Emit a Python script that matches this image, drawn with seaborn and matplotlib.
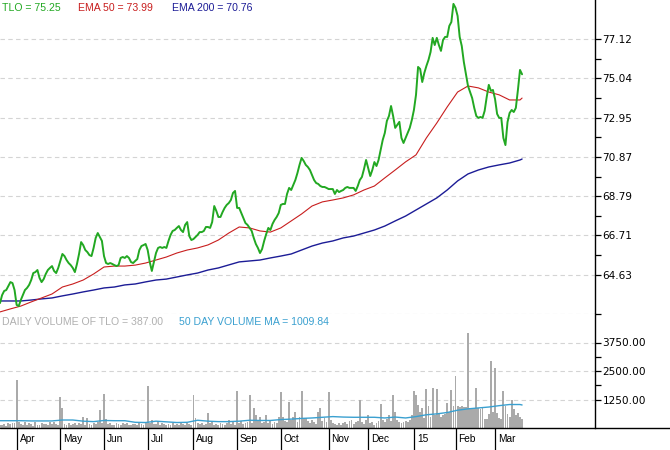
import numpy as np
import pandas as pd
import matplotlib
matplotlib.use("Agg")
import matplotlib.pyplot as plt
import matplotlib.transforms as mtransforms
from matplotlib.lines import Line2D
import seaborn as sns

# ---------------- data ----------------
holidays = ["2014-04-18", "2014-05-26", "2014-07-04", "2014-09-01", "2014-11-27",
            "2014-12-25", "2015-01-01", "2015-01-19", "2015-02-16"]
dates = pd.bdate_range("2014-03-20", periods=252, freq="C", holidays=holidays)

price = [
    63.13, 63.55, 63.77, 63.82, 64.03, 64.24, 64.19, 63.82, 63.03, 62.97,
    63.29, 63.55, 63.82, 63.93, 64.09, 64.35, 64.72, 64.77, 64.88, 64.46,
    64.24, 64.40, 64.67, 64.88, 64.99, 65.09, 64.83, 64.72, 64.99, 65.36,
    65.73, 65.62, 65.41, 65.25, 65.14, 64.99, 64.77, 65.20, 65.73, 66.36,
    66.20, 65.94, 65.83, 65.67, 65.62, 66.05, 66.58, 66.84, 66.63, 66.42,
    65.62, 65.25, 65.20, 65.25, 65.20, 65.14, 65.09, 65.14, 65.52, 65.57,
    65.52, 65.62, 65.52, 65.30, 65.25, 65.36, 65.46, 65.94, 66.15, 66.20,
    66.26, 65.94, 65.30, 64.83, 65.30, 65.78, 66.05, 66.10, 66.05, 66.10,
    66.05, 66.42, 66.74, 66.95, 67.00, 67.11, 67.21, 67.00, 66.89, 67.27,
    67.42, 66.68, 66.47, 66.52, 66.63, 66.74, 66.89, 66.89, 66.95, 67.16,
    67.16, 67.11, 67.42, 68.27, 68.01, 67.69, 67.69, 67.95, 68.17, 68.33,
    68.43, 68.59, 68.96, 69.07, 68.17, 68.17, 67.90, 67.64, 67.37, 67.27,
    67.11, 66.95, 66.58, 66.26, 66.05, 65.78, 65.99, 66.42, 66.79, 67.11,
    67.00, 67.32, 67.53, 67.69, 67.90, 68.33, 68.38, 68.38, 68.91, 69.23,
    69.12, 69.39, 69.65, 70.02, 70.45, 70.82, 70.66, 70.45, 70.34, 70.18,
    69.92, 69.65, 69.49, 69.44, 69.33, 69.28, 69.28, 69.23, 69.17, 69.17,
    69.17, 68.91, 69.12, 69.01, 69.07, 69.12, 69.23, 69.28, 69.23, 69.23,
    69.23, 69.07, 69.33, 69.65, 69.81, 70.23, 70.71, 70.29, 69.86, 70.18,
    70.60, 70.39, 70.71, 71.24, 71.77, 72.14, 72.78, 73.04, 73.57, 73.04,
    72.41, 72.57, 72.73, 71.88, 71.61, 71.88, 72.14, 72.41, 72.83, 73.36,
    74.16, 75.64, 75.53, 74.84, 75.32, 75.69, 76.01, 76.43, 77.18, 76.80,
    77.18, 76.80, 76.49, 77.07, 77.23, 77.23, 77.81, 78.02, 78.98, 78.77,
    78.34, 77.23, 76.75, 75.90, 75.27, 74.63, 74.31, 73.99, 73.47, 73.04,
    72.94, 72.99, 72.94, 73.31, 74.05, 74.69, 74.37, 74.42, 73.94, 73.15,
    72.94, 72.94, 71.88, 71.50, 72.72, 73.20, 73.36, 73.25, 73.47, 74.42,
    75.48, 75.25,
]

volume = [
    150, 120, 180, 90, 200, 160, 210, 240, 2090, 260,
    180, 140, 250, 120, 200, 170, 90, 260, 150, 130,
    220, 180, 160, 110, 250, 170, 260, 190, 140, 1350,
    870, 180, 150, 240, 120, 160, 200, 130, 210, 170,
    480, 150, 435, 190, 140, 220, 160, 250, 780, 200,
    1480, 380, 170, 210, 150, 130, 240, 180, 120, 200,
    160, 230, 150, 110, 190, 170, 140, 260, 180, 120,
    210, 1830, 230, 350, 180, 160, 300, 140, 200, 170,
    120, 190, 150, 220, 130, 170, 110, 200, 160, 140,
    210, 180, 150, 1440, 430, 200, 160, 230, 140, 180,
    650, 210, 270, 150, 190, 130, 220, 170, 140, 200,
    350, 180, 260, 150, 1610, 240, 300, 180, 210, 260,
    1440, 200, 870, 565, 300, 480, 210, 260, 565, 240,
    310, 180, 270, 200, 480, 1570, 480, 300, 250, 1130,
    330, 480, 700, 260, 480, 1610, 400, 450, 300, 230,
    350, 270, 180, 700, 870, 300, 440, 260, 1570, 350,
    220, 180, 150, 240, 130, 200, 260, 170, 300, 350,
    180, 250, 300, 1220, 260, 180, 330, 565, 200, 260,
    150, 240, 300, 1040, 350, 250, 400, 565, 300, 1440,
    700, 350, 280, 220, 260, 300, 250, 330, 565, 1610,
    1440, 1000, 700, 870, 450, 1700, 960, 480, 1740, 560,
    1700, 650, 480, 560, 600, 1090, 700, 1650, 960, 2300,
    950, 920, 960, 940, 900, 4180, 870, 850, 870, 1740,
    870, 850, 880, 400, 380, 600, 2960, 720, 2650, 650,
    420, 400, 1610, 960, 600, 500, 1220, 830, 565, 650,
    480, 387,
]

# moving averages, sampled every 5 trading days plus the last day
avg_days = list(range(0, 251, 5)) + [251]
ema50 = [62.66, 62.82, 62.97, 63.19, 63.40, 63.61, 63.98, 64.14, 64.35, 64.67,
         65.04, 65.09, 65.09, 65.14, 65.25, 65.41, 65.57, 65.78, 65.94, 66.05,
         66.21, 66.47, 66.84, 67.16, 67.11, 66.95, 66.89, 67.11, 67.48, 67.85,
         68.27, 68.49, 68.59, 68.70, 68.86, 69.12, 69.33, 69.76, 70.18, 70.61,
         70.98, 71.88, 72.67, 73.52, 74.31, 74.63, 74.53, 74.31, 74.16, 73.89,
         73.89, 73.99]
ema200 = [63.24, 63.24, 63.24, 63.29, 63.35, 63.40, 63.51, 63.61, 63.72, 63.82,
          63.93, 63.98, 64.09, 64.14, 64.25, 64.35, 64.40, 64.51, 64.62, 64.72,
          64.88, 64.99, 65.15, 65.31, 65.36, 65.41, 65.52, 65.62, 65.73, 65.94,
          66.15, 66.31, 66.42, 66.58, 66.68, 66.84, 67.00, 67.21, 67.48, 67.74,
          68.06, 68.38, 68.70, 69.12, 69.60, 69.97, 70.18, 70.34, 70.45, 70.55,
          70.71, 70.76]
vol_ma50 = [320, 320, 320, 310, 310, 310, 350, 350, 300, 280,
            330, 320, 320, 250, 240, 300, 270, 240, 250, 340,
            300, 280, 280, 300, 340, 330, 330, 370, 390, 420,
            440, 470, 500, 480, 470, 470, 470, 440, 480, 440,
            500, 580, 620, 680, 780, 840, 880, 920, 980, 1030,
            1030, 1009.84]

price_ticks = [62.55, 64.63, 66.71, 68.79, 70.87, 72.95, 75.04, 77.12]
price_tick_labels = ["", "64.63", "66.71", "68.79", "70.87", "72.95", "75.04", "77.12"]
vol_ticks = [1250, 2500, 3750]
vol_tick_labels = ["1250.00", "2500.00", "3750.00"]

# ---------------- style ----------------
sns.set_theme(style="white")
plt.rcParams["font.family"] = ["Liberation Sans", "DejaVu Sans"]

GREEN = "#22a822"
RED = "#c81e1e"
NAVY = "#1c1c96"
GRAY = "#aaaaaa"
CYAN = "#3aa0d0"
GRID = "#d4d4d4"

W, H = 670, 450
fig = plt.figure(figsize=(W / 100, H / 100), dpi=100)
fig.patch.set_facecolor("white")

px_right = 595
y_split = 314
y_base = 428
ax_p = fig.add_axes([0, 1 - y_split / H, px_right / W, y_split / H])
ax_v = fig.add_axes([0, 1 - y_base / H, px_right / W, (y_base - y_split) / H], sharex=ax_p)

idx = np.arange(len(price))

# ---- price panel ----
sns.lineplot(x=avg_days, y=ema200, color=NAVY, lw=1.0, ax=ax_p)
sns.lineplot(x=avg_days, y=ema50, color=RED, lw=0.8, ax=ax_p)
sns.lineplot(x=idx, y=price, color=GREEN, lw=1.4, ax=ax_p)

ax_p.set_ylim(62.55, 79.186)
ax_p.set_xlim(0, px_right / 2.08)

# ---- volume panel ----
sns.barplot(x=idx, y=volume, native_scale=True, color=GRAY, saturation=1,
            width=0.9, errorbar=None, linewidth=0, ax=ax_v)
sns.lineplot(x=avg_days, y=vol_ma50, color=CYAN, lw=1.0, ax=ax_v)
ax_v.set_ylim(0, 5000)
ax_v.set_xlim(0, px_right / 2.08)

for ax in (ax_p, ax_v):
    ax.set_facecolor("white")
    ax.set_xlabel("")
    ax.set_ylabel("")
    for s in ("top", "left", "bottom"):
        ax.spines[s].set_visible(False)
    ax.spines["right"].set_visible(True)
    ax.spines["right"].set_color("black")
    ax.spines["right"].set_linewidth(1.0)
    ax.yaxis.tick_right()
    ax.set_axisbelow(True)

# y ticks price
ax_p.set_yticks(price_ticks)
ax_p.set_yticklabels(price_tick_labels)
ax_p.set_yticks([(a + b) / 2 for a, b in zip(price_ticks[1:-1], price_ticks[2:])], minor=True)
# y ticks volume
ax_v.set_yticks(vol_ticks)
ax_v.set_yticklabels(vol_tick_labels)
ax_v.set_yticks([1875, 3125], minor=True)

for ax in (ax_p, ax_v):
    ax.tick_params(axis="y", which="both", right=True, left=False, direction="out",
                   length=4.5, width=0.9, color="black", pad=1.0,
                   labelsize=7.6, labelcolor="black")
    for lbl in ax.get_yticklabels():
        lbl.set_fontfamily("DejaVu Sans")
    ax.grid(axis="y", which="major", color=GRID, linestyle=(0, (4, 3)), linewidth=0.8)
    ax.grid(axis="x", visible=False)

# x ticks: month starts
month_idx = [i for i in range(1, len(dates)) if dates[i].month != dates[i - 1].month]
month_lbl = [(dates[i].strftime("%y") if dates[i].month == 1 else dates[i].strftime("%b"))
             for i in month_idx]
ax_p.tick_params(axis="x", which="both", bottom=False, labelbottom=False)
ax_v.set_xticks(month_idx)
ax_v.tick_params(axis="x", which="major", bottom=True, direction="out", length=16,
                 width=0.9, color="black", labelbottom=False)
trans = mtransforms.blended_transform_factory(ax_v.transData, ax_v.transAxes)
for m, lab in zip(month_idx, month_lbl):
    ax_v.text(m + 1.4, -0.097, lab, transform=trans, ha="left", va="center",
              fontsize=7.3, color="black", clip_on=False)

# baseline across full width
fig.add_artist(Line2D([0, 1], [1 - y_base / H] * 2, transform=fig.transFigure,
                      color="black", lw=1.0))

# header legends
fig.text(2 / W, 1 - 8 / H, "TLO = 75.25", color=GREEN, fontsize=7.6, ha="left", va="center")
fig.text(78 / W, 1 - 8 / H, "EMA 50 = 73.99", color=RED, fontsize=7.6, ha="left", va="center")
fig.text(172 / W, 1 - 8 / H, "EMA 200 = 70.76", color=NAVY, fontsize=7.6, ha="left", va="center")
fig.text(2 / W, 1 - 322 / H, "DAILY VOLUME OF TLO = 387.00", color="#b0b0b0", fontsize=7.6,
         ha="left", va="center")
fig.text(179 / W, 1 - 322 / H, "50 DAY VOLUME MA = 1009.84", color=CYAN, fontsize=7.6,
         ha="left", va="center")

fig.savefig("out.png", dpi=100, facecolor="white")
